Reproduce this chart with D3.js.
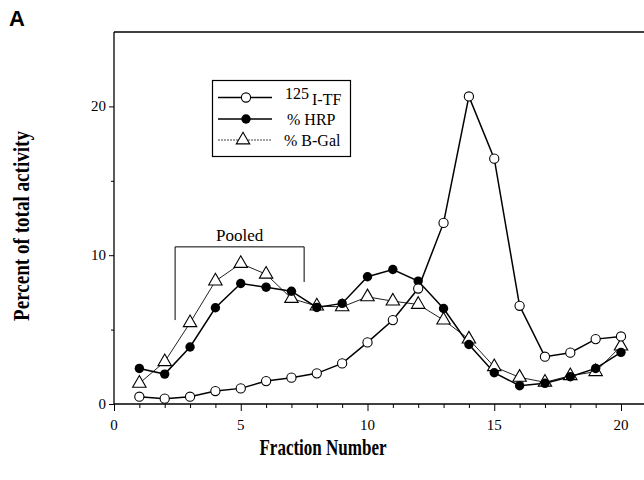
<!DOCTYPE html>
<html><head><meta charset="utf-8">
<script src="https://cdn.jsdelivr.net/npm/d3@7"></script>
<style>html,body{margin:0;padding:0;background:#fff;}</style>
</head><body>
<svg id="c" width="644" height="480"></svg>
<script>
const fractions = [1,2,3,4,5,6,7,8,9,10,11,12,13,14,15,16,17,18,19,20];
const tfValues   = [0.49,0.36,0.49,0.87,1.05,1.54,1.77,2.06,2.73,4.14,5.64,7.76,12.17,20.67,16.49,6.6,3.18,3.45,4.36,4.54];
const hrpValues  = [2.39,2.01,3.83,6.47,8.1,7.85,7.58,6.49,6.76,8.55,9.04,8.26,6.42,4.0,2.1,1.23,1.39,1.83,2.39,3.47];
const bgalValues = [1.39,2.84,5.46,8.26,9.44,8.72,7.09,6.58,6.53,7.2,6.91,6.69,5.64,4.36,2.5,1.79,1.46,1.9,2.17,3.89];
const xTickLabels = [0,5,10,15,20];
const yTickLabels = [0,10,20];
const seriesNames = ["125", "% HRP", "% B-Gal"];
const pooledRange = [2.41, 7.5];
const pooledEnds = [5.64, 8.2, 10.56];

const svg = d3.select("#c");
const x = d3.scaleLinear().domain([0, 20]).range([114, 621]);
const y = d3.scaleLinear().domain([0, 25]).range([404, 32]);
const serif = "'Liberation Serif','Times New Roman',serif";

// Axes lines
svg.append("line").attr("x1",114).attr("x2",114).attr("y1",32).attr("y2",404).attr("stroke","#000").attr("stroke-width",1.3);
svg.append("line").attr("x1",114).attr("x2",644).attr("y1",32).attr("y2",32).attr("stroke","#000").attr("stroke-width",1.3);
svg.append("line").attr("x1",114).attr("x2",644).attr("y1",404).attr("y2",404).attr("stroke","#000").attr("stroke-width",1.3);

// X ticks
const xAxis = d3.axisBottom(x).tickValues(d3.range(0,21)).tickSize(4).tickFormat("");
const gx = svg.append("g").attr("transform","translate(0,404)").call(xAxis);
gx.select(".domain").remove();
gx.selectAll(".tick line").attr("y2", d => d % 5 === 0 ? 7 : 4);
svg.append("g").selectAll("text").data(xTickLabels).join("text")
  .attr("x", d => x(d)).attr("y", 430).attr("text-anchor","middle")
  .attr("font-family", serif).attr("font-size", 15).text(d => d);

// Y ticks
const yAxis = d3.axisLeft(y).tickValues([0,5,10,15,20]).tickSize(4).tickFormat("");
const gy = svg.append("g").attr("transform","translate(114,0)").call(yAxis);
gy.select(".domain").remove();
gy.selectAll(".tick line").attr("x2", d => d % 10 === 0 ? -5 : -3);
svg.append("g").selectAll("text").data(yTickLabels).join("text")
  .attr("x", 106).attr("y", d => y(d) + 5).attr("text-anchor","end")
  .attr("font-family", serif).attr("font-size", 15).text(d => d);

// Axis titles (condensed bold serif)
svg.append("text").attr("transform","translate(323,455) scale(0.74,1)").attr("text-anchor","middle")
  .attr("font-family", serif).attr("font-weight","bold").attr("font-size", 23).text("Fraction Number");
svg.append("text").attr("transform","translate(29,226) rotate(-90) scale(0.83,1)").attr("text-anchor","middle")
  .attr("font-family", serif).attr("font-weight","bold").attr("font-size", 23).text("Percent of total activity");
svg.append("text").attr("x", 9).attr("y", 26).attr("font-family","'Liberation Sans',Arial,sans-serif")
  .attr("font-weight","bold").attr("font-size", 22).text("A");

// Pooled bracket
const bracket = [[pooledRange[0], pooledEnds[0]],[pooledRange[0], pooledEnds[2]],[pooledRange[1], pooledEnds[2]],[pooledRange[1], pooledEnds[1]]];
svg.append("path").attr("d", d3.line().x(d=>x(d[0])).y(d=>y(d[1]))(bracket))
  .attr("fill","none").attr("stroke","#000").attr("stroke-width",1);
svg.append("text").attr("x", x((pooledRange[0]+pooledRange[1])/2)).attr("y", y(pooledEnds[2]) - 6)
  .attr("text-anchor","middle").attr("font-family", serif).attr("font-size", 17).text("Pooled");

const line = d3.line().x((d,i)=>x(fractions[i])).y(d=>y(d));

// B-Gal series
svg.append("path").attr("d", line(bgalValues)).attr("fill","none").attr("stroke","#222").attr("stroke-width",1);
// HRP
svg.append("path").attr("d", line(hrpValues)).attr("fill","none").attr("stroke","#000").attr("stroke-width",1.5);
// TF
svg.append("path").attr("d", line(tfValues)).attr("fill","none").attr("stroke","#000").attr("stroke-width",1.5);

const tri = d3.symbol().type(d3.symbolTriangle).size(78);
svg.append("g").selectAll("path").data(bgalValues).join("path")
  .attr("d", tri).attr("transform",(d,i)=>`translate(${x(fractions[i])},${y(d)})`)
  .attr("fill","#fff").attr("stroke","#000").attr("stroke-width",1.1);
svg.append("g").selectAll("circle").data(hrpValues).join("circle")
  .attr("cx",(d,i)=>x(fractions[i])).attr("cy",d=>y(d)).attr("r",4.7).attr("fill","#000");
svg.append("g").selectAll("circle").data(tfValues).join("circle")
  .attr("cx",(d,i)=>x(fractions[i])).attr("cy",d=>y(d)).attr("r",4.6)
  .attr("fill","#fff").attr("stroke","#000").attr("stroke-width",1.1);

// Legend
const lg = svg.append("g");
lg.append("rect").attr("x",212.5).attr("y",80.5).attr("width",138).attr("height",76)
  .attr("fill","#fff").attr("stroke","#000").attr("stroke-width",1.2);
const rows = [97.5, 119, 140];
// row 1
lg.append("line").attr("x1",218).attr("x2",272).attr("y1",rows[0]).attr("y2",rows[0]).attr("stroke","#000").attr("stroke-width",1.3);
lg.append("circle").attr("cx",246).attr("cy",rows[0]).attr("r",4.6).attr("fill","#fff").attr("stroke","#000").attr("stroke-width",1.1);
const t1 = lg.append("text").attr("x",285).attr("y",rows[0]+1).attr("font-family",serif).attr("font-size",16);
t1.append("tspan").text(seriesNames[0]);
t1.append("tspan").attr("dx",3).attr("dy",6).text("I-TF");
// row 2
lg.append("line").attr("x1",218).attr("x2",272).attr("y1",rows[1]).attr("y2",rows[1]).attr("stroke","#000").attr("stroke-width",1.3);
lg.append("circle").attr("cx",246).attr("cy",rows[1]).attr("r",4.7).attr("fill","#000");
lg.append("text").attr("x",287).attr("y",rows[1]+6).attr("font-family",serif).attr("font-size",16).text(seriesNames[1]);
// row 3
lg.append("line").attr("x1",218).attr("x2",272).attr("y1",rows[2]).attr("y2",rows[2]).attr("stroke","#444").attr("stroke-width",1).attr("stroke-dasharray","2,1");
lg.append("path").attr("d",tri).attr("transform",`translate(243,${rows[2]})`).attr("fill","#fff").attr("stroke","#000").attr("stroke-width",1.1);
lg.append("text").attr("x",284).attr("y",rows[2]+6).attr("font-family",serif).attr("font-size",16).text(seriesNames[2]);
</script>
</body></html>
